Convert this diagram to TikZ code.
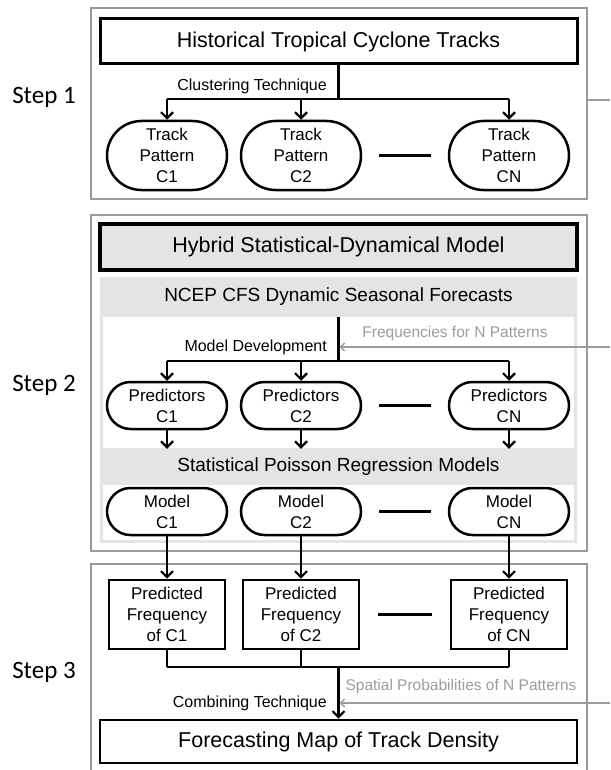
\documentclass[tikz,border=0pt]{standalone}
\usepackage{fontspec}
\setmainfont{Liberation Sans}
\newfontfamily\stepfont{Carlito}
\usetikzlibrary{positioning}
\usetikzlibrary{arrows.meta,shapes.misc}
\usetikzlibrary{calc}
\definecolor{framegray}{HTML}{9A9A9A}
\definecolor{panelgray}{HTML}{E3E4E5}
\definecolor{hintgray}{HTML}{9C9C9C}
\tikzstyle{frame}=[draw=framegray,line width=2.6pt,inner sep=0pt,minimum width=496pt]
\tikzstyle{headbox}=[draw,line width=3pt,inner sep=0pt,minimum width=477pt,font=\fontsize{21.5}{24}\selectfont]
\tikzstyle{band}=[inner sep=0pt,minimum width=477pt,font=\fontsize{19}{22}\selectfont]
\tikzstyle{oval}=[rounded rectangle,draw,line width=2.5pt,minimum width=120pt,inner sep=0pt,align=center,font=\fontsize{17}{21}\selectfont]
\tikzstyle{freqbox}=[draw,line width=2.6pt,minimum width=116pt,minimum height=69pt,inner sep=0pt,align=center,font=\fontsize{17}{21}\selectfont]
\tikzstyle{flow} = [draw,line width=2.2pt,-{Straight Barb[length=6pt,width=12pt,line width=2.2pt]}]
\tikzstyle{plainflow} = [draw,line width=2.2pt]
\tikzstyle{hint} = [draw=hintgray,line width=1.4pt,-{Straight Barb[length=4pt,width=8pt,line width=1.4pt]}]
\tikzstyle{hintline} = [draw=hintgray,line width=1.4pt]
\tikzstyle{note} = [inner sep=0pt,font=\fontsize{16}{19}\selectfont]
\tikzstyle{graynote} = [inner sep=0pt,text=hintgray,font=\fontsize{15.5}{19}\selectfont]
\tikzstyle{steplabel} = [font=\stepfont\fontsize{25}{28}\selectfont]

\begin{document}
\begin{tikzpicture}[x=1pt,y=-1pt]
\useasboundingbox (0,0) rectangle (610,770);

%Step 1
    \node[steplabel] (S1) at (44,97) {Step 1};
    \node[frame,minimum height=191pt] (frame1) at (339,103.5) {};
    \node[headbox,minimum height=45pt] (tracks) at (338.5,41.5) {Historical Tropical Cyclone Tracks};

  \foreach \pos/\name/\lab in {{(167,155.5)/T1/C1}, {(301,155.5)/T2/C2}, {(509,155.5)/TN/CN}}
        \node[oval,minimum height=69pt] (\name) at \pos {Track\\Pattern\\\lab};

    \coordinate (split1) at (338.5,99);
    \node[note,anchor=east] (cluster) at (327,86) {Clustering Technique};
    \path[plainflow] (tracks.south) -- (split1);
    \path[plainflow] (T1 |- split1) -- (TN |- split1);
   \foreach \dest in {T1,T2,TN}
          \path[flow] (\dest |- split1) -- (\dest.north);
    \path[plainflow] ($(T2.east)!0.2!(TN.west)$) -- ($(T2.east)!0.8!(TN.west)$);

    \coordinate (out1) at (610,100);
    \path[hintline] (frame1.east |- out1) -- (out1);

%Step 2
    \node[steplabel] (S2) at (44,385) {Step 2};
    \node[frame,minimum height=336pt] (frame2) at (339,383) {};
    \node[headbox,fill=panelgray,line width=3.3pt,minimum height=46pt] (hybrid) at (338.5,247) {Hybrid Statistical-Dynamical Model};

    % light panel with two white fields
    \fill[panelgray] (100,277) rectangle (577,543);
    \fill[white] (103,317) rectangle (574,448);
    \fill[white] (103,485) rectangle (574,540);

    \node[band,minimum height=40pt] (ncep) at (338.5,297) {NCEP CFS Dynamic Seasonal Forecasts};
    \node[band,minimum height=36pt] (poisson) at (338.5,467) {Statistical Poisson Regression Models};

  \foreach \pos/\name/\lab in {{(167,405.5)/P1/C1}, {(301,405.5)/P2/C2}, {(509,405.5)/PN/CN}}
        \node[oval,minimum height=47pt] (\name) at \pos {Predictors\\\lab};
  \foreach \pos/\name/\lab in {{(167,511.5)/M1/C1}, {(301,511.5)/M2/C2}, {(509,511.5)/MN/CN}}
        \node[oval,minimum height=47pt] (\name) at \pos {Model\\\lab};

    \coordinate (split2) at (338.5,361);
    \node[note,anchor=east] (develop) at (327,347) {Model Development};
    \node[graynote] (freq) at (455,333) {Frequencies for N Patterns};
    \path[plainflow] (ncep.south) -- (split2);
    \path[plainflow] (P1 |- split2) -- (PN |- split2);
   \foreach \dest in {P1,P2,PN}
          \path[flow] (\dest |- split2) -- (\dest.north);
   \foreach \source in {P1,P2,PN}
          \path[flow] (\source.south) -- (\source |- poisson.north);
    \path[plainflow] ($(P2.east)!0.2!(PN.west)$) -- ($(P2.east)!0.8!(PN.west)$);
    \path[plainflow] ($(M2.east)!0.2!(MN.west)$) -- ($(M2.east)!0.8!(MN.west)$);

    \coordinate (in2) at (610,347);
    \path[hint,shorten >=1.1pt] (in2) -- (split2 |- in2);

%Step 3
    \node[steplabel] (S3) at (44,672) {Step 3};
    \node[frame,minimum height=216pt] (frame3) at (339,672) {};

  \foreach \pos/\name/\lab in {{(167,614.5)/F1/C1}, {(301,614.5)/F2/C2}, {(509,614.5)/FN/CN}}
        \node[freqbox] (\name) at \pos {Predicted\\Frequency\\of \lab};

    \node[headbox,line width=2.6pt,minimum height=43pt] (density) at (338.5,741.5) {Forecasting Map of Track Density};

   \foreach \source/\dest in {M1/F1, M2/F2, MN/FN}
          \path[flow] (\source.south) -- (\dest.north);
    \path[plainflow] ($(F2.east)!0.2!(FN.west)$) -- ($(F2.east)!0.8!(FN.west)$);

    \coordinate (join3) at (338.5,667);
   \foreach \source in {F1,F2,FN}
          \path[plainflow] (\source.south) -- (\source |- join3);
    \path[plainflow] (F1 |- join3) -- (FN |- join3);
    \path[flow] (join3) -- (density.north);
    \node[note,anchor=east] (combine) at (327,703) {Combining Technique};
    \node[graynote] (spatial) at (461,686) {Spatial Probabilities of N Patterns};

    \coordinate (in3) at (610,703);
    \path[hint,shorten >=1.1pt] (in3) -- (join3 |- in3);

\end{tikzpicture}
\end{document}
